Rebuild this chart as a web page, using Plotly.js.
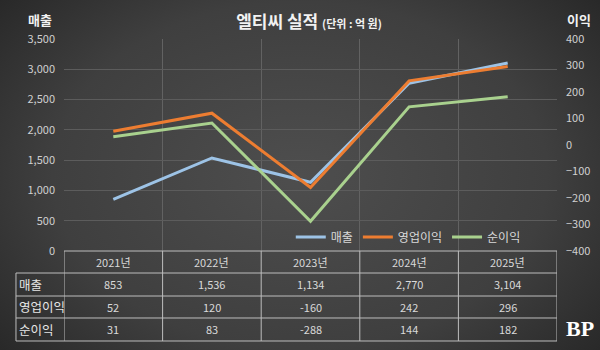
<!DOCTYPE html>
<html>
<head>
<meta charset="utf-8">
<script src="https://cdn.plot.ly/plotly-3.0.1.min.js"></script>
<style>
  html, body { margin: 0; padding: 0; }
  body {
    width: 600px; height: 350px; overflow: hidden;
    background: radial-gradient(ellipse 75% 90% at 50% 50%, #4e4e4e 0%, #3f3f3f 55%, #2a2a2a 85%, #1f1f1f 100%);
  }
  #chart { width: 600px; height: 350px; }
</style>
</head>
<body>
<div id="chart"></div>
<script>
// ---- data ----
const years = ['2021년', '2022년', '2023년', '2024년', '2025년'];
const sales = [853, 1536, 1134, 2770, 3104];
const opProfit = [52, 120, -160, 242, 296];
const netProfit = [31, 83, -288, 144, 182];
const seriesNames = ['매출', '영업이익', '순이익'];
const leftTicks = [0, 500, 1000, 1500, 2000, 2500, 3000, 3500];
const rightTicks = [-400, -300, -200, -100, 0, 100, 200, 300, 400];

const FONT = '"Noto Sans CJK KR", "Noto Sans", sans-serif';
const idx = years.map((_, i) => i);

const traces = [
  { x: idx, y: sales, name: seriesNames[0], type: 'scatter', mode: 'lines',
    line: { color: '#9dc3e6', width: 3 }, yaxis: 'y' },
  { x: idx, y: opProfit, name: seriesNames[1], type: 'scatter', mode: 'lines',
    line: { color: '#ed7d31', width: 3 }, yaxis: 'y2' },
  { x: idx, y: netProfit, name: seriesNames[2], type: 'scatter', mode: 'lines',
    line: { color: '#a9d18e', width: 3 }, yaxis: 'y2' }
];

// table geometry (paper coords)
const rowY = [-0.1038, -0.2123, -0.316, -0.4245]; // bottom edges of header,row1,row2,row3
const rowMid = [-0.052, -0.158, -0.264, -0.370];
const leftEdge = -0.0974;
const tableColor = '#bdbdbd';

const shapes = [];
shapes.push({ type: 'line', xref: 'paper', yref: 'paper', x0: 0, x1: 1, y0: 0, y1: 0, line: { color: tableColor, width: 1 } });
rowY.forEach((y) => {
  shapes.push({ type: 'line', xref: 'paper', yref: 'paper', x0: leftEdge, x1: 1, y0: y, y1: y, line: { color: tableColor, width: 1 } });
});
for (let k = 0; k <= years.length; k++) {
  shapes.push({ type: 'line', xref: 'x', yref: 'paper', x0: k - 0.5, x1: k - 0.5, y0: 0, y1: rowY[3], line: { color: tableColor, width: 1 } });
}
shapes.push({ type: 'line', xref: 'paper', yref: 'paper', x0: leftEdge, x1: leftEdge, y0: rowY[0], y1: rowY[3], line: { color: tableColor, width: 1 } });

const annotations = [];
const cellFont = { family: FONT, size: 11, color: '#d9d9d9' };
const C = { showarrow: false, xanchor: 'center', yanchor: 'middle' };
years.forEach((yr, i) => {
  annotations.push(Object.assign({ xref: 'x', yref: 'paper', x: i, y: rowMid[0], text: yr, font: cellFont }, C));
  [sales, opProfit, netProfit].forEach((arr, r) => {
    annotations.push(Object.assign({ xref: 'x', yref: 'paper', x: i, y: rowMid[r + 1], text: arr[i].toLocaleString('en-US'), font: cellFont }, C));
  });
});
seriesNames.forEach((nm, r) => {
  annotations.push({ xref: 'paper', yref: 'paper', x: leftEdge + 0.002, xanchor: 'left', yanchor: 'middle', y: rowMid[r + 1], text: nm, showarrow: false, font: { family: FONT, size: 12.5, color: '#e6e6e6' } });
});
annotations.push(Object.assign({ xref: 'paper', yref: 'paper', x: -0.0487, y: 1.09, text: '<b>매출</b>', font: { family: FONT, size: 13, color: '#f2f2f2' } }, C));
annotations.push(Object.assign({ xref: 'paper', yref: 'paper', x: 1.045, y: 1.09, text: '<b>이익</b>', font: { family: FONT, size: 13, color: '#f2f2f2' } }, C));
annotations.push(Object.assign({ xref: 'paper', yref: 'paper', x: 1.047, y: -0.365, text: '<b>BP</b>', font: { family: '"Liberation Serif", serif', size: 22, color: '#ffffff' } }, C));

const layout = {
  width: 600, height: 350,
  margin: { l: 64, r: 43, t: 39, b: 99, autoexpand: false },
  paper_bgcolor: 'rgba(0,0,0,0)',
  plot_bgcolor: 'rgba(0,0,0,0)',
  font: { family: FONT, color: '#d9d9d9' },
  title: {
    text: '<b>엘티씨 실적</b> <span style="font-size:11px"><b>(단위 : 억 원)</b></span>',
    x: 0.515, xanchor: 'center', y: 0.937, yanchor: 'middle',
    font: { family: FONT, size: 17, color: '#f2f2f2' }
  },
  xaxis: {
    range: [-0.5, 4.5], tick0: -0.5, dtick: 1, tickmode: 'linear',
    showticklabels: false, showgrid: true, gridcolor: '#626262', gridwidth: 1,
    zeroline: false, showline: false, fixedrange: true
  },
  yaxis: {
    range: [0, 3500], tickvals: leftTicks, tickformat: ',',
    showgrid: true, gridcolor: '#5c5c5c', zeroline: false, showline: false,
    tickfont: { family: FONT, size: 11, color: '#d0d0d0' }, ticklabelstandoff: 8
  },
  yaxis2: {
    range: [-400, 400], tickvals: rightTicks, overlaying: 'y', side: 'right',
    showgrid: false, zeroline: false, showline: false,
    tickfont: { family: FONT, size: 11, color: '#d0d0d0' }, ticklabelstandoff: 8
  },
  showlegend: true,
  legend: {
    orientation: 'h', x: 0.46, xanchor: 'left', y: 0.066, yanchor: 'middle',
    bgcolor: 'rgba(0,0,0,0)', font: { family: FONT, size: 12, color: '#d9d9d9' },
    itemwidth: 30
  },
  shapes: shapes,
  annotations: annotations
};

Plotly.newPlot('chart', traces, layout, { displayModeBar: false, staticPlot: true });
</script>
</body>
</html>
